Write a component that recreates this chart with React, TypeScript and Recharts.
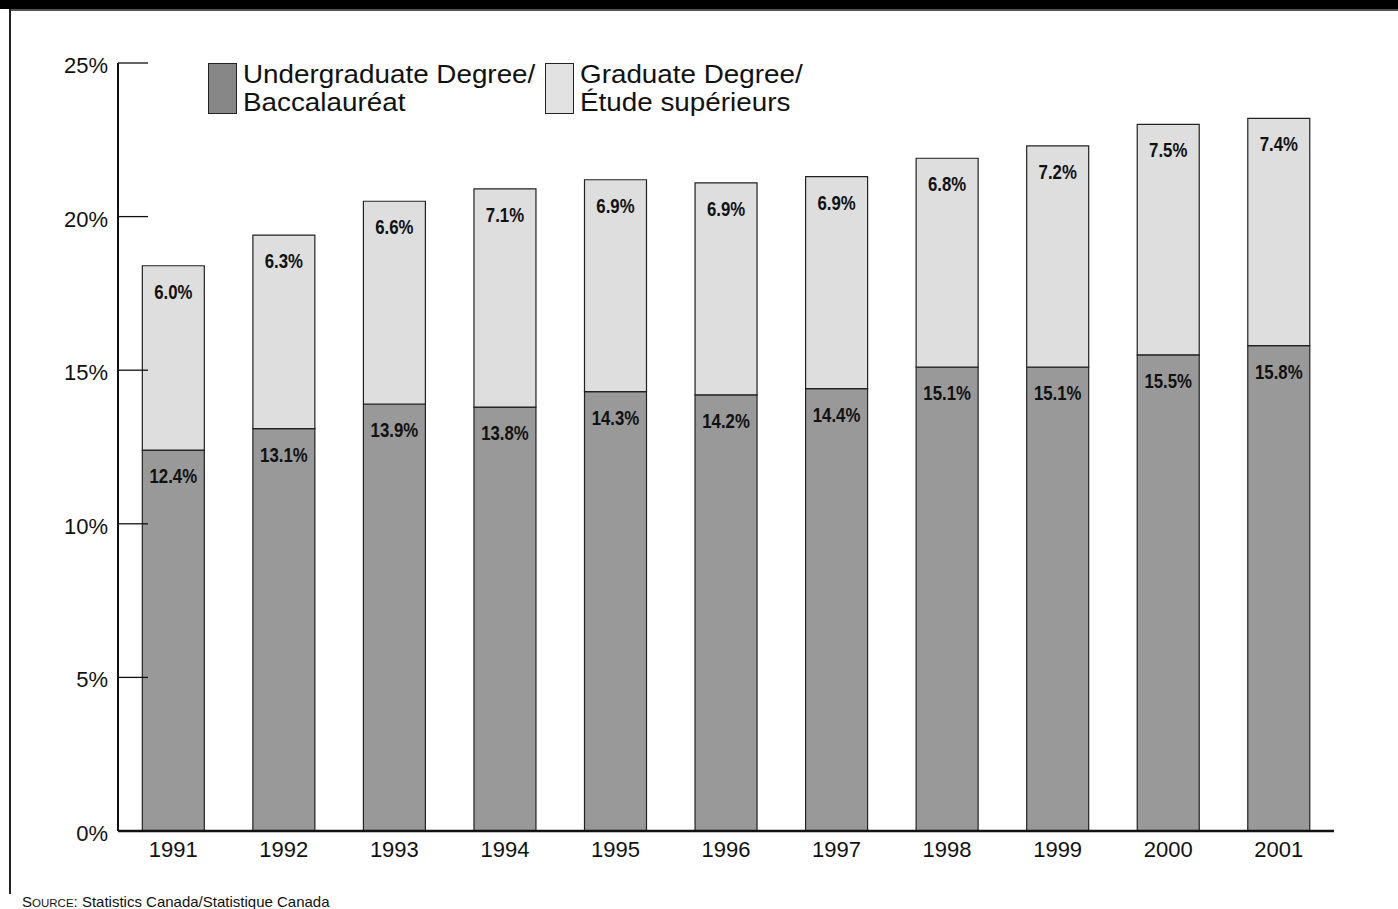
import React from "react";
import { BarChart, Bar, XAxis, YAxis, LabelList } from "recharts";

const years = ["1991", "1992", "1993", "1994", "1995", "1996", "1997", "1998", "1999", "2000", "2001"];
const undergrad = [12.4, 13.1, 13.9, 13.8, 14.3, 14.2, 14.4, 15.1, 15.1, 15.5, 15.8];
const graduate = [6.0, 6.3, 6.6, 7.1, 6.9, 6.9, 6.9, 6.8, 7.2, 7.5, 7.4];
const yTicks = [0, 5, 10, 15, 20, 25];
const seriesNames = ["Undergraduate Degree/\nBaccalauréat", "Graduate Degree/\nÉtude supérieurs"];

const data = years.map((y, i) => ({ year: y, undergrad: undergrad[i], graduate: graduate[i] }));

const SANS = "'Liberation Sans', Arial, Helvetica, sans-serif";

const DARK = "#999999";
const LIGHT = "#dedede";

const BarLabel = (props: any) => {
  const { x, y, width, value } = props;
  const cx = x + width / 2;
  const cy = y + 33;
  return (
    <text
      transform={`translate(${cx},${cy}) scale(0.84,1)`}
      x={0}
      y={0}
      textAnchor="middle"
      fontFamily={SANS}
      fontWeight="bold"
      fontSize={20}
      fill="#111"
    >
      {Number(value).toFixed(1)}%
    </text>
  );
};

const YTick = (props: any) => {
  const { x, y, payload } = props;
  return (
    <g>
      <text x={x} y={y + 10} textAnchor="end" fontFamily={SANS} fontSize={22} fill="#111">
        {payload.value}%
      </text>
      <line x1={x + 10} x2={x + 40} y1={y} y2={y} stroke="#111" strokeWidth={1.3} />
    </g>
  );
};

const XTick = (props: any) => {
  const { x, y, payload } = props;
  return (
    <text x={x} y={y + 24} textAnchor="middle" fontFamily={SANS} fontSize={22} fill="#111">
      {payload.value}
    </text>
  );
};

const LegendBlock = () => {
  const lefts = [208, 545];
  const swatch = ["#878787", "#e2e2e2"];
  return (
    <>
      {seriesNames.map((name, i) => {
        const lines = name.split("\n");
        return (
          <div key={i} style={{ position: "absolute", left: lefts[i], top: 58, display: "flex" }}>
            <div
              style={{
                width: 27,
                height: 49,
                background: swatch[i],
                border: "1.5px solid #222",
                marginTop: 5,
              }}
            />
            <div
              style={{
                marginLeft: 6,
                marginTop: 2,
                fontFamily: SANS,
                fontSize: 26,
                lineHeight: "28px",
                color: "#111",
                textAlign: "left",
                whiteSpace: "nowrap",
                transform: "scaleX(1.07)",
                transformOrigin: "left top",
              }}
            >
              {lines.map((l, j) => (
                <div key={j}>{l}</div>
              ))}
            </div>
          </div>
        );
      })}
    </>
  );
};

export default function App() {
  return (
    <div
      style={{
        position: "absolute",
        left: 0,
        top: 0,
        width: 1398,
        height: 909,
        background: "#fff",
        overflow: "hidden",
      }}
    >
      <div style={{ position: "absolute", left: 0, top: 0, width: 1398, height: 9, background: "#000" }} />
      <div style={{ position: "absolute", left: 9, top: 9, width: 1389, height: 2, background: "#555" }} />
      <div style={{ position: "absolute", left: 9, top: 9, width: 2, height: 885, background: "#222" }} />
      <div style={{ position: "absolute", left: 0, top: 0 }}>
        <BarChart
          width={1398}
          height={909}
          data={data}
          margin={{ top: 63, right: 64, bottom: 38, left: 0 }}
          barCategoryGap="22%"
        >
          <YAxis
            width={118}
            domain={[0, 25]}
            ticks={yTicks}
            interval={0}
            tickSize={0}
            tickMargin={10}
            tickLine={false}
            axisLine={{ stroke: "#111", strokeWidth: 2 }}
            tick={<YTick />}
          />
          <XAxis
            dataKey="year"
            height={40}
            tickLine={false}
            tickSize={0}
            axisLine={{ stroke: "#111", strokeWidth: 2.5 }}
            tick={<XTick />}
            interval={0}
          />
          <Bar
            dataKey="undergrad"
            name={seriesNames[0]}
            stackId="a"
            fill={DARK}
            stroke="#222"
            strokeWidth={1.2}
            isAnimationActive={false}
          >
            <LabelList dataKey="undergrad" content={<BarLabel />} />
          </Bar>
          <Bar
            dataKey="graduate"
            name={seriesNames[1]}
            stackId="a"
            fill={LIGHT}
            stroke="#222"
            strokeWidth={1.2}
            isAnimationActive={false}
          >
            <LabelList dataKey="graduate" content={<BarLabel />} />
          </Bar>
        </BarChart>
      </div>
      <LegendBlock />
      <div
        style={{
          position: "absolute",
          left: 22,
          top: 893,
          fontFamily: SANS,
          fontSize: 15,
          color: "#111",
          whiteSpace: "nowrap",
          lineHeight: "17px",
        }}
      >
        S<span style={{ fontSize: 11.5 }}>OURCE</span>: Statistics Canada/Statistique Canada
      </div>
    </div>
  );
}
